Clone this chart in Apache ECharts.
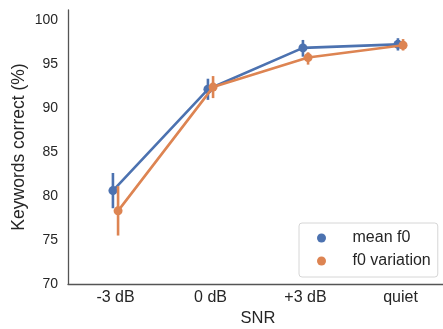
<!DOCTYPE html>
<html>
<head>
<meta charset="utf-8">
<script src="https://cdn.jsdelivr.net/npm/echarts@6/dist/echarts.min.js"></script>
<style>
html, body { margin: 0; padding: 0; background: #fff; }
#chart { width: 443px; height: 329px; }
</style>
</head>
<body>
<div id="chart"></div>
<script>
// data
var categories = ['-3 dB', '0 dB', '+3 dB', 'quiet']
var seriesNames = ['mean f0', 'f0 variation']
var meanF0 = [80.6, 92.1, 96.8, 97.2]
var meanF0Low = [78.6, 90.9, 95.8, 96.5]
var meanF0High = [82.6, 93.3, 97.7, 97.9]
var f0Var = [78.3, 92.35, 95.7, 97.1]
var f0VarLow = [75.5, 91.1, 94.9, 96.5]
var f0VarHigh = [81.1, 93.6, 96.3, 97.8]
var yTicks = [70, 75, 80, 85, 90, 95, 100]

var colors = ['#4C72B0', '#DD8452']
var dodge = 0.027
var font = 'Liberation Sans'
var textColor = '#262626'

function points(vals, off) {
  return vals.map(function (v, i) { return [i + off, v] })
}
function bars(lo, hi, off) {
  return lo.map(function (l, i) { return [i + off, l, hi[i]] })
}
function errSeries(name, data, color) {
  return {
    name: name,
    type: 'custom',
    xAxisIndex: 1,
    z: 3,
    renderItem: function (params, api) {
      var a = api.coord([api.value(0), api.value(1)])
      var b = api.coord([api.value(0), api.value(2)])
      return {
        type: 'line',
        shape: { x1: a[0], y1: a[1], x2: b[0], y2: b[1] },
        style: { stroke: color, lineWidth: 2.6 }
      }
    },
    encode: { x: 0, y: [1, 2] },
    data: data
  }
}

var chart = echarts.init(document.getElementById('chart'))
chart.setOption({
  animation: false,
  grid: { left: 68, right: -5, top: 10, bottom: 45, outerBoundsMode: 'none' },
  legend: {
    data: seriesNames,
    orient: 'vertical',
    left: 299,
    top: 223,
    icon: 'circle',
    itemWidth: 50,
    itemHeight: 9,
    itemGap: 7,
    padding: [7, 7, 8, 18],
    borderColor: '#d6d6d6',
    borderWidth: 1,
    borderRadius: 3,
    backgroundColor: '#fff',
    textStyle: { fontFamily: font, fontSize: 16, color: textColor, padding: [0, 0, 0, 1], lineHeight: 16 }
  },
  xAxis: [
    {
      type: 'category',
      data: categories,
      boundaryGap: true,
      name: 'SNR',
      nameLocation: 'middle',
      nameGap: 26,
      nameMoveOverlap: false,
      nameTextStyle: { fontFamily: font, fontSize: 16.5, color: textColor },
      axisLine: { lineStyle: { color: '#555', width: 1.3 } },
      axisTick: { show: false },
      axisLabel: { fontFamily: font, fontSize: 16, color: textColor, margin: 6 },
      splitLine: { show: false }
    },
    { type: 'value', min: -0.5, max: 3.5, show: false }
  ],
  yAxis: {
    type: 'value',
    min: yTicks[0],
    max: 101.1,
    interval: 5,
    name: 'Keywords correct (%)',
    nameLocation: 'middle',
    nameGap: 40,
    nameMoveOverlap: false,
    nameTextStyle: { fontFamily: font, fontSize: 17.5, color: textColor },
    axisLine: { show: true, onZero: false, lineStyle: { color: '#555', width: 1.3 } },
    axisTick: { show: false },
    axisLabel: { fontFamily: font, fontSize: 14, color: textColor, margin: 10, showMaxLabel: false },
    splitLine: { show: false }
  },
  series: [
    {
      name: seriesNames[0],
      type: 'line',
      xAxisIndex: 1,
      data: points(meanF0, -dodge),
      symbol: 'circle',
      symbolSize: 9,
      itemStyle: { color: colors[0] },
      lineStyle: { color: colors[0], width: 2.6 },
      z: 2
    },
    errSeries('mean f0 err', bars(meanF0Low, meanF0High, -dodge), colors[0]),
    {
      name: seriesNames[1],
      type: 'line',
      xAxisIndex: 1,
      data: points(f0Var, dodge),
      symbol: 'circle',
      symbolSize: 9,
      itemStyle: { color: colors[1] },
      lineStyle: { color: colors[1], width: 2.6 },
      z: 4
    },
    errSeries('f0 variation err', bars(f0VarLow, f0VarHigh, dodge), colors[1])
  ]
})
</script>
</body>
</html>
